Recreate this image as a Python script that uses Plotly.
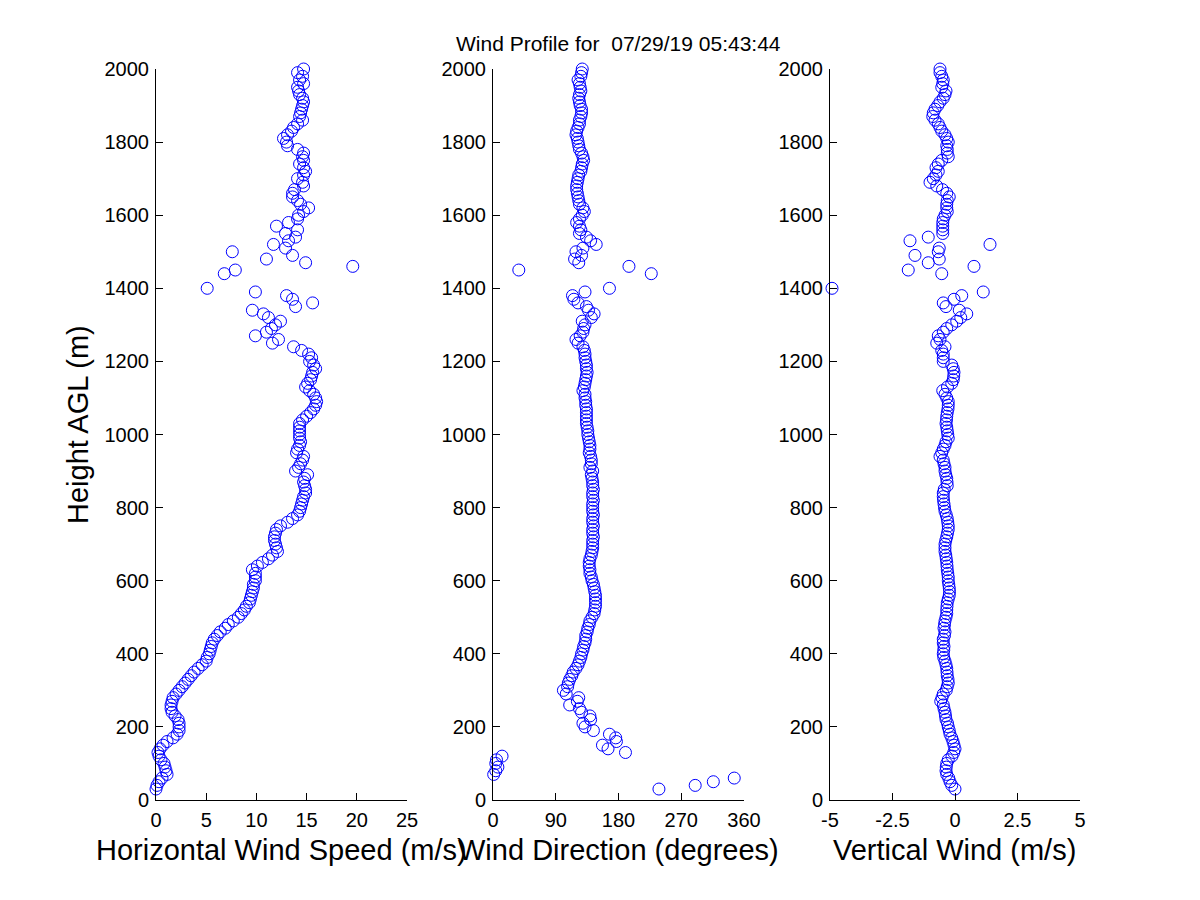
import numpy as np
import plotly.graph_objects as go

nan = np.nan

# range gates (m AGL), 30 m up to 2000 m every 10 m
heights = list(range(30, 2001, 10))

# horizontal wind speed (m/s)
speed = [
    0.0, 0.1, 0.3, 0.6, 1.1, 1.0, 0.9, 0.8,                      # 30-100
    0.5, 0.3, 0.2, 0.4, 0.7, 1.1, 1.7, 2.1, 2.3, 2.3,            # 110-200
    2.3, 2.2, 1.9, 1.6, 1.5, 1.5, 1.6, 1.7, 2.0, 2.3,            # 210-300
    2.6, 2.9, 3.2, 3.5, 3.8, 4.2, 4.6, 5.0, 5.1, 5.3,            # 310-400
    5.4, 5.5, 5.6, 5.8, 6.1, 6.4, 6.9, 7.2, 7.7, 8.2,            # 410-500
    8.5, 8.8, 9.0, 9.3, 9.4, 9.5, 9.6, 9.7, 9.7, 9.9,            # 510-600
    9.9, 9.9, 9.6, 10.1, 10.6, 11.2, 11.6, 12.1, 12.0, 11.9,     # 610-700
    11.8, 11.8, 11.9, 12.0, 12.4, 13.1, 13.6, 14.1, 14.3, 14.4,  # 710-800
    14.5, 14.6, 14.7, 14.9, 14.9, 14.8, 14.7, 14.8, 15.1, 13.9,  # 810-900
    14.2, 14.4, 14.6, 14.7, 14.0, 14.1, 14.3, 14.4, 14.3, 14.3,  # 910-1000
    14.3, 14.3, 14.3, 14.6, 15.0, 15.4, 15.7, 15.9, 16.0, 15.9,  # 1010-1100
    15.7, 15.3, 14.9, 15.1, 15.4, 15.5, 15.6, 15.9, 15.7, 15.3,  # 1110-1200
    15.5, 15.2, 14.5, 13.7, 11.6, 12.2, 9.9, 11.0, 11.5, 11.9,   # 1210-1300
    12.4, 11.2, 10.7, 9.6, 13.9, 15.6, 13.6, 13.0, 9.9, 5.1,     # 1310-1400
    nan, nan, nan, 6.8, 7.9, 19.6, 14.9, 11.0, 13.6, 7.6,        # 1410-1500
    12.9, 11.7, 13.2, 13.9, 12.9, 14.1, 12.0, 13.2, 14.1, 14.2,  # 1510-1600
    14.7, 15.2, 14.4, 14.1, 13.6, 13.6, 13.8, 14.7, 14.6, 14.1,  # 1610-1700
    14.7, 14.9, 14.7, 14.3, 14.7, 14.6, 14.7, 14.1, 13.1, 13.0,  # 1710-1800
    12.7, 13.1, 13.5, 13.7, 14.1, 14.6, 14.3, 14.4, 14.5, 14.6,  # 1810-1900
    14.7, 14.6, 14.3, 14.2, 14.1, 14.7, 14.3, 14.6, 14.1, 14.7,  # 1910-2000
]

# wind direction (degrees), middle panel
direction = [
    238, 290, 316, 346, 1, 4, 7, 4,                    # 30-100
    5, 13, 190, 165, 157, 177, 176, 167, 144, 132,     # 110-200
    129, 140, 139, 127, 124, 110, 121, 123, 105, 101,  # 210-300
    107, 108, 110, 113, 115, 119, 122, 124, 126, 127,  # 310-400
    129, 130, 132, 133, 133, 135, 136, 138, 139, 142,  # 410-500
    145, 146, 147, 147, 147, 147, 146, 145, 144, 142,  # 510-600
    141, 139, 139, 138, 138, 139, 141, 142, 143, 143,  # 610-700
    143, 144, 143, 143, 144, 143, 143, 144, 143, 143,  # 710-800
    143, 144, 143, 143, 144, 143, 143, 142, 141, 143,  # 810-900
    139, 141, 141, 140, 138, 139, 139, 138, 137, 136,  # 910-1000
    136, 135, 134, 134, 134, 134, 134, 133, 133, 132,  # 1010-1100
    132, 129, 131, 132, 133, 134, 135, 134, 134, 133,  # 1110-1200
    132, 132, 131, 129, 122, 119, 125, 129, 130, 132,  # 1210-1300
    128, 141, 145, 137, 134, 122, 116, 114, 132, 167,  # 1310-1400
    nan, nan, nan, 227, 37, 195, 123, 117, 127, 119,   # 1410-1500
    129, 148, 140, 134, 124, 126, 124, 120, 124, 128,  # 1510-1600
    131, 129, 124, 123, 122, 121, 120, 120, 121, 122,  # 1610-1700
    123, 126, 127, 128, 130, 129, 127, 124, 123, 122,  # 1710-1800
    121, 119, 120, 122, 124, 124, 126, 127, 127, 125,  # 1810-1900
    124, 123, 124, 126, 125, 124, 122, 126, 127, 128,  # 1910-2000
]

# vertical wind (m/s), right panel
vertical = [
    0.0, -0.13, -0.2, -0.25, -0.33, -0.36, -0.35, -0.33,                     # 30-100
    -0.27, -0.12, -0.05, 0.0, -0.04, -0.08, -0.13, -0.2, -0.23, -0.27,       # 110-200
    -0.3, -0.36, -0.38, -0.4, -0.44, -0.47, -0.57, -0.52, -0.47, -0.35,      # 210-300
    -0.31, -0.27, -0.28, -0.31, -0.32, -0.33, -0.36, -0.4, -0.45, -0.47,     # 310-400
    -0.45, -0.44, -0.47, -0.47, -0.42, -0.4, -0.44, -0.42, -0.4, -0.36,      # 410-500
    -0.33, -0.33, -0.32, -0.31, -0.27, -0.23, -0.22, -0.23, -0.25, -0.27,    # 510-600
    -0.27, -0.29, -0.31, -0.32, -0.33, -0.35, -0.37, -0.4, -0.4, -0.4,       # 610-700
    -0.37, -0.33, -0.3, -0.27, -0.27, -0.29, -0.31, -0.35, -0.4, -0.42,      # 710-800
    -0.44, -0.46, -0.47, -0.47, -0.43, -0.31, -0.32, -0.33, -0.37, -0.4,     # 810-900
    -0.4, -0.44, -0.47, -0.6, -0.53, -0.47, -0.4, -0.36, -0.27, -0.29,       # 910-1000
    -0.31, -0.33, -0.36, -0.34, -0.33, -0.31, -0.28, -0.27, -0.27, -0.33,    # 1010-1100
    -0.4, -0.49, -0.3, -0.13, -0.07, -0.05, -0.04, -0.07, -0.13, -0.47,      # 1110-1200
    -0.47, -0.47, -0.53, -0.4, -0.73, -0.6, -0.67, -0.47, -0.33, -0.13,      # 1210-1300
    0.07, 0.23, 0.47, 0.17, -0.36, -0.47, -0.04, 0.27, 1.13, -4.92,          # 1310-1400
    nan, nan, nan, -0.53, -1.87, 0.76, -1.07, -0.63, -1.6, -0.67,            # 1410-1500
    -0.63, 1.4, -1.8, -1.07, -0.49, -0.49, -0.49, -0.49, -0.47, -0.4,        # 1510-1600
    -0.31, -0.33, -0.33, -0.31, -0.23, -0.33, -0.5, -0.73, -1.0, -0.87,      # 1610-1700
    -0.76, -0.67, -0.76, -0.67, -0.53, -0.27, -0.31, -0.31, -0.33, -0.27,    # 1710-1800
    -0.33, -0.4, -0.53, -0.6, -0.67, -0.8, -0.89, -0.87, -0.8, -0.69,        # 1810-1900
    -0.6, -0.47, -0.4, -0.36, -0.53, -0.49, -0.47, -0.53, -0.6, -0.6,        # 1910-2000
]

title_text = "Wind Profile for  07/29/19 05:43:44"
x_titles = ["Horizontal Wind Speed (m/s)", "Wind Direction (degrees)", "Vertical Wind (m/s)"]
x_ranges = [[0, 25], [0, 360], [-5, 5]]
x_ticks = [[0, 5, 10, 15, 20, 25], [0, 90, 180, 270, 360], [-5, -2.5, 0, 2.5, 5]]
x_ticktext = [["0", "5", "10", "15", "20", "25"],
              ["0", "90", "180", "270", "360"],
              ["-5", "-2.5", "0", "2.5", "5"]]
y_ticks = list(range(0, 2001, 200))

W, H = 1200, 900
FONT = "Liberation Sans, Arial, sans-serif"
# panel positions in pixels (left, right), shared top/bottom
panels = [(156, 407), (493, 744), (830, 1080)]
top_px, bottom_px = 69, 800

fig = go.Figure()
series = [speed, direction, vertical]
for i, vals in enumerate(series):
    n = "" if i == 0 else str(i + 1)
    fig.add_trace(go.Scatter(
        x=vals, y=heights, mode="markers", xaxis="x" + n, yaxis="y" + n,
        marker=dict(symbol="circle-open", size=12, color="#0000ff",
                    line=dict(width=1, color="#0000ff")),
        cliponaxis=False, showlegend=False, hoverinfo="x+y"))

layout = dict(
    width=W, height=H, margin=dict(l=0, r=0, t=0, b=0, autoexpand=False),
    paper_bgcolor="white", plot_bgcolor="white",
    font=dict(family=FONT, size=20, color="black"),
)
axis_common = dict(showline=True, linecolor="black", linewidth=1, mirror=False,
                   showgrid=False, zeroline=False, ticks="inside", ticklen=7,
                   tickwidth=1, tickcolor="black", tickfont=dict(size=20, family=FONT),
                   ticklabelstandoff=2, automargin=False)
for i, (l, r) in enumerate(panels):
    n = "" if i == 0 else str(i + 1)
    layout["xaxis" + n] = dict(axis_common, domain=[l / W, r / W], range=x_ranges[i],
                               tickvals=x_ticks[i], ticktext=x_ticktext[i],
                               anchor="y" + n)
    layout["yaxis" + n] = dict(axis_common, domain=[1 - bottom_px / H, 1 - top_px / H],
                               range=[0, 2000], tickvals=y_ticks, anchor="x" + n)

annotations = [dict(text=title_text, x=618 / W, y=1 - 44 / H, xref="paper", yref="paper",
                    xanchor="center", yanchor="middle", showarrow=False,
                    font=dict(size=21, family=FONT))]
for i, (l, r) in enumerate(panels):
    annotations.append(dict(text=x_titles[i], x=(l + r) / 2 / W, y=1 - 850 / H,
                            xref="paper", yref="paper", xanchor="center", yanchor="middle",
                            showarrow=False, font=dict(size=29, family=FONT)))
annotations.append(dict(text="Height AGL (m)", x=78 / W, y=1 - 425 / H, xref="paper",
                        yref="paper", xanchor="center", yanchor="middle", textangle=-90,
                        showarrow=False, font=dict(size=29, family=FONT)))
layout["annotations"] = annotations

fig.update_layout(**layout)
# drop the browser's default 8px page margin so the figure sits at (0, 0)
fig.write_html("out.html", config={"displayModeBar": False},
               post_script="document.body.style.margin = '0px';")
